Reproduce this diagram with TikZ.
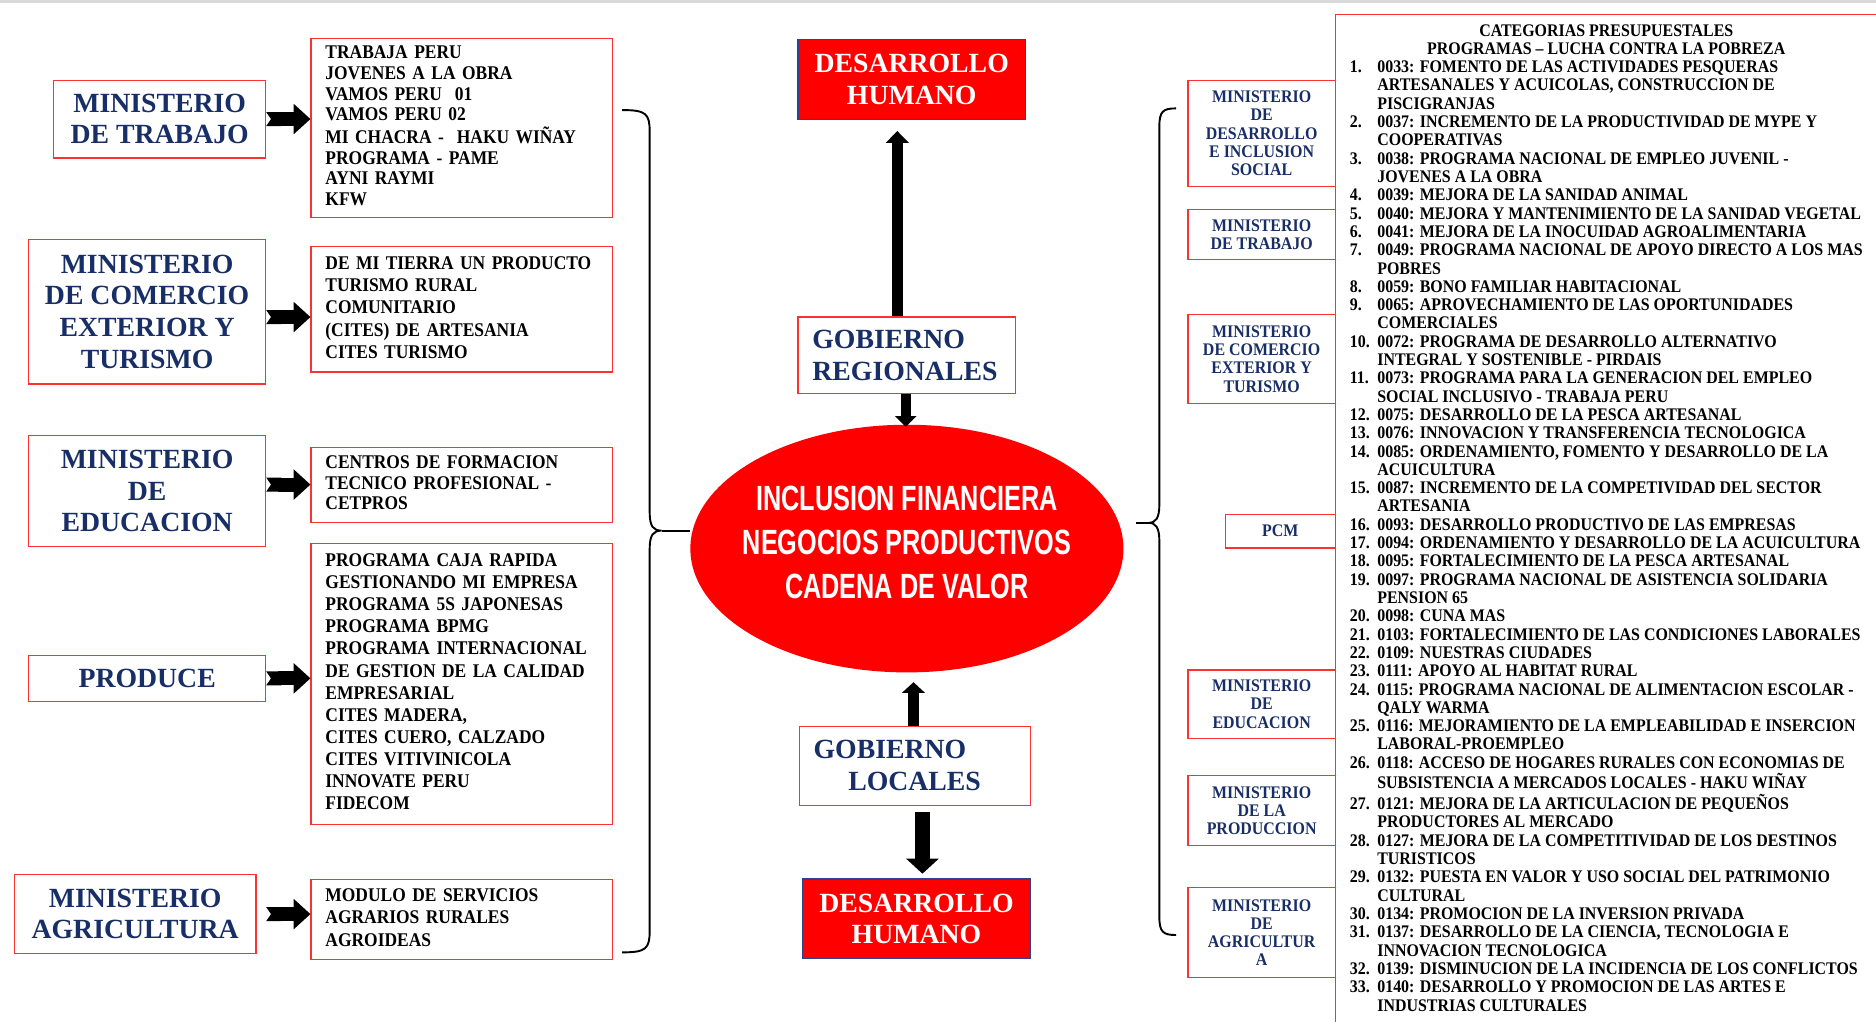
\documentclass[tikz,border=0pt]{standalone}
\usepackage{fontspec}
\setmainfont{Liberation Serif}
\newfontfamily\condserif[FakeStretch=0.9]{Liberation Serif}
\newfontfamily\condsans[FakeStretch=0.72]{Liberation Sans}
\usetikzlibrary{arrows.meta,shapes.geometric}

\definecolor{boxred}{RGB}{250,50,50}
\definecolor{navy}{RGB}{24,46,102}
\definecolor{dhborder}{RGB}{45,65,140}

\newcommand{\lines}[1]{\noindent\begin{tabular}{@{}l@{}}#1\end{tabular}}
\newcommand{\nr}[1]{\makebox[23pt][l]{#1.}}

\begin{document}
\begin{tikzpicture}[x=1pt, y=-1pt,
    minbox/.style={draw=boxred, line width=1pt, align=center, text=navy, inner sep=0pt,
        font=\fontsize{23.2}{26.5}\selectfont\bfseries},
    progbox/.style={draw=boxred, line width=1pt, text width=228pt, align=left,
        inner xsep=12pt, inner ysep=0pt,
        font=\condserif\fontsize{16.2}{#1}\selectfont\bfseries},
    progbox/.default=17.2,
    gobbox/.style={draw=boxred, line width=1pt, align=left, text=navy, inner xsep=12pt,
        inner ysep=0pt, font=\fontsize{23.2}{26.5}\selectfont\bfseries},
    dhbox/.style={draw=dhborder, line width=1pt, fill=red, text=white, align=center,
        inner sep=0pt, minimum width=190pt, font=\fontsize{23.2}{26.5}\selectfont\bfseries},
    rminbox/.style={draw=boxred, line width=1pt, align=center, text=navy, inner sep=0pt,
        font=\condserif\fontsize{14.8}{15.3}\selectfont\bfseries},
    notched/.style={line width=11.7pt,
        {Triangle Cap[reversed,length=4pt]}-{Triangle[width=24.5pt,length=14pt]}},
    curly/.style={line width=1.6pt}]

\useasboundingbox (0,0) rectangle (1568,854);
\clip (0,0) rectangle (1568,854);
\draw[gray!30, line width=2.5pt] (0,1) -- (1568,1);

% ministerios (izquierda)
\node[minbox, minimum width=177pt, minimum height=65pt] (mtra) at (133.5,99.5) {MINISTERIO\\DE TRABAJO};
\node[minbox, minimum width=198pt, minimum height=121pt] (mcom) at (123,260.5) {MINISTERIO\\DE COMERCIO\\EXTERIOR Y\\TURISMO};
\node[minbox, minimum width=198pt, minimum height=93pt] (medu) at (123,410.5) {MINISTERIO\\DE\\EDUCACION};
\node[minbox, minimum width=198pt, minimum height=38pt] (mpro) at (123,567) {PRODUCE};
\node[minbox, minimum width=202pt, minimum height=66pt] (magr) at (113,764) {MINISTERIO\\AGRICULTURA};

% programas
\node[progbox=17.3, minimum height=150pt] (ptra) at (386,107) {\lines{TRABAJA PERU\\ JOVENES A LA OBRA\\ VAMOS PERU \ 01\\ VAMOS PERU 02\\ MI CHACRA - \ HAKU WIÑAY\\ PROGRAMA - PAME\\ AYNI RAYMI\\ KFW}};
\node[progbox=18.7, minimum height=105pt] (pcom) at (386,258.5) {\lines{DE MI TIERRA UN PRODUCTO\\ TURISMO RURAL\\ COMUNITARIO\\ (CITES) DE ARTESANIA\\ CITES TURISMO}};
\node[progbox=17, minimum height=63pt] (pedu) at (386,405.5) {\lines{CENTROS DE FORMACION\\ TECNICO PROFESIONAL -\\ CETPROS}};
\node[progbox=18.5, minimum height=235pt] (ppro) at (386,571.5) {\lines{PROGRAMA CAJA RAPIDA\\ GESTIONANDO MI EMPRESA\\ PROGRAMA 5S JAPONESAS\\ PROGRAMA BPMG\\ PROGRAMA INTERNACIONAL\\ DE GESTION DE LA CALIDAD\\ EMPRESARIAL\\ CITES MADERA,\\ CITES CUERO, CALZADO\\ CITES VITIVINICOLA\\ INNOVATE PERU\\ FIDECOM}};
\node[progbox=18.5, minimum height=67pt] (pagr) at (386,768.5) {\lines{MODULO DE SERVICIOS\\ AGRARIOS RURALES\\ AGROIDEAS}};

\draw[notched] (mtra.east) -- (mtra.east -| ptra.west);
\draw[notched] ([yshift=-4.5pt]mcom.east) -- ([yshift=-4.5pt]mcom.east -| pcom.west);
\draw[notched] ([yshift=5.5pt]medu.east) -- ([yshift=5.5pt]medu.east -| pedu.west);
\draw[notched] (mpro.east) -- (mpro.east -| ppro.west);
\draw[notched, shorten <=8pt] (magr.east) -- (magr.east -| pagr.west);

% centro
\node[ellipse, fill=red, minimum width=362pt, minimum height=207pt, inner sep=0pt, text=white,
    font=\condsans\fontsize{29.3}{37}\selectfont\bfseries] (el) at (758,458.5)
    {\makebox[0pt]{\raisebox{-42pt}[0pt][0pt]{\begin{tabular}[b]{@{}c@{}}INCLUSION FINANCIERA\\NEGOCIOS PRODUCTIVOS\\CADENA DE VALOR\end{tabular}}}};
\node[dhbox, minimum height=67pt] (dhtop) at (762,66.5) {DESARROLLO\\HUMANO};
\node[gobbox, text width=158pt, minimum height=64pt] (greg) at (758,297) {GOBIERNO\\REGIONALES};
\node[gobbox, text width=169pt, minimum height=66pt] (gloc) at (764.5,640) {GOBIERNO\\\hspace*{29pt}LOCALES};
\node[dhbox, minimum height=66.5pt] (dhbot) at (766,768) {DESARROLLO\\HUMANO};

\draw[line width=9pt, shorten >=9pt, -{Triangle[width=19pt,length=10pt]}]
    ([xshift=-8pt]greg.north) -- ([xshift=-8pt]greg.north |- dhtop.south);
\draw[line width=8.4pt, shorten >=-2pt, -{Triangle[width=17.5pt,length=9pt]}]
    ([xshift=-1pt]greg.south) -- ([xshift=-1pt]greg.south |- el.north);
\draw[line width=9pt, shorten >=8pt, -{Triangle[width=19pt,length=9pt]}]
    ([xshift=-1pt]gloc.north) -- ([xshift=-1pt]gloc.north |- el.south);
\draw[line width=12.5pt, shorten <=5pt, shorten >=4pt, -{Triangle[width=26.5pt,length=12.5pt]}]
    ([xshift=6.5pt]gloc.south) -- ([xshift=6.5pt]gloc.south |- dhbot.north);

% llaves
\coordinate (lt) at (553,443.5);
\draw[curly] (520,92) .. controls (540,92) and (543,95) .. (543,110) -- (543,428)
    .. controls (543,440) and (546,443.5) .. (lt) .. controls (546,443.5) and (543,447) .. (543,459)
    -- (543,778) .. controls (543,793) and (540,796) .. (520,796);
\draw[curly] (lt) -- (lt -| el.west);

\coordinate (rt) at (960,437);
\draw[curly] (983,90.6) .. controls (972,90.6) and (969,93) .. (969,106) -- (969,422)
    .. controls (969,433) and (966,437) .. (rt) .. controls (966,437) and (969,441) .. (969,452)
    -- (969,766) .. controls (969,779) and (972,781.5) .. (983,781.5);
\draw[curly, shorten >=10pt] (rt) -- (rt -| el.east);

% ministerios (derecha)
\node[rminbox, minimum width=123pt, minimum height=89pt] (rmdis) at (1054.5,111.5) {MINISTERIO\\DE\\DESARROLLO\\E INCLUSION\\SOCIAL};
\node[rminbox, minimum width=123pt, minimum height=42pt] (rmtra) at (1054.5,196) {MINISTERIO\\DE TRABAJO};
\node[rminbox, minimum width=123pt, minimum height=74pt] (rmcom) at (1054.5,300) {MINISTERIO\\DE COMERCIO\\EXTERIOR Y\\TURISMO};
\node[rminbox, minimum width=92pt, minimum height=28pt] (rpcm) at (1070,444) {PCM};
\node[rminbox, minimum width=123pt, minimum height=57pt] (rmedu) at (1054.5,588.5) {MINISTERIO\\DE\\EDUCACION};
\node[rminbox, minimum width=123pt, minimum height=59pt] (rmpro) at (1054.5,677.5) {MINISTERIO\\DE LA\\PRODUCCION};
\node[rminbox, minimum width=123pt, minimum height=75pt] (rmagr) at (1054.5,779.5) {MINISTERIO\\DE\\AGRICULTUR\\A};

% categorias presupuestales
\draw[boxred, line width=1pt] (1116,900) -- (1116,12) -- (1650,12);
\node[anchor=north west, inner sep=0pt, font=\condserif\fontsize{14.8}{15.3}\selectfont\bfseries] (cats) at (1128,19.2) {%
\begin{tabular}{@{}l@{}l@{}}
\multicolumn{2}{@{}c@{}}{CATEGORIAS PRESUPUESTALES}\\
\multicolumn{2}{@{}c@{}}{PROGRAMAS – LUCHA CONTRA LA POBREZA}\\
\nr{1} & 0033: FOMENTO DE LAS ACTIVIDADES PESQUERAS\\
 & ARTESANALES Y ACUICOLAS, CONSTRUCCION DE\\
 & PISCIGRANJAS\\
\nr{2} & 0037: INCREMENTO DE LA PRODUCTIVIDAD DE MYPE Y\\
 & COOPERATIVAS\\
\nr{3} & 0038: PROGRAMA NACIONAL DE EMPLEO JUVENIL -\\
 & JOVENES A LA OBRA\\
\nr{4} & 0039: MEJORA DE LA SANIDAD ANIMAL\\
\nr{5} & 0040: MEJORA Y MANTENIMIENTO DE LA SANIDAD VEGETAL\\
\nr{6} & 0041: MEJORA DE LA INOCUIDAD AGROALIMENTARIA\\
\nr{7} & 0049: PROGRAMA NACIONAL DE APOYO DIRECTO A LOS MAS\\
 & POBRES\\
\nr{8} & 0059: BONO FAMILIAR HABITACIONAL\\
\nr{9} & 0065: APROVECHAMIENTO DE LAS OPORTUNIDADES\\
 & COMERCIALES\\
\nr{10} & 0072: PROGRAMA DE DESARROLLO ALTERNATIVO\\
 & INTEGRAL Y SOSTENIBLE - PIRDAIS\\
\nr{11} & 0073: PROGRAMA PARA LA GENERACION DEL EMPLEO\\
 & SOCIAL INCLUSIVO - TRABAJA PERU\\
\nr{12} & 0075: DESARROLLO DE LA PESCA ARTESANAL\\
\nr{13} & 0076: INNOVACION Y TRANSFERENCIA TECNOLOGICA\\
\nr{14} & 0085: ORDENAMIENTO, FOMENTO Y DESARROLLO DE LA\\
 & ACUICULTURA\\
\nr{15} & 0087: INCREMENTO DE LA COMPETIVIDAD DEL SECTOR\\
 & ARTESANIA\\
\nr{16} & 0093: DESARROLLO PRODUCTIVO DE LAS EMPRESAS\\
\nr{17} & 0094: ORDENAMIENTO Y DESARROLLO DE LA ACUICULTURA\\
\nr{18} & 0095: FORTALECIMIENTO DE LA PESCA ARTESANAL\\
\nr{19} & 0097: PROGRAMA NACIONAL DE ASISTENCIA SOLIDARIA\\
 & PENSION 65\\
\nr{20} & 0098: CUNA MAS\\
\nr{21} & 0103: FORTALECIMIENTO DE LAS CONDICIONES LABORALES\\
\nr{22} & 0109: NUESTRAS CIUDADES\\
\nr{23} & 0111: APOYO AL HABITAT RURAL\\
\nr{24} & 0115: PROGRAMA NACIONAL DE ALIMENTACION ESCOLAR -\\
 & QALY WARMA\\
\nr{25} & 0116: MEJORAMIENTO DE LA EMPLEABILIDAD E INSERCION\\
 & LABORAL-PROEMPLEO\\
\nr{26} & 0118: ACCESO DE HOGARES RURALES CON ECONOMIAS DE\\
 & SUBSISTENCIA A MERCADOS LOCALES - HAKU WIÑAY\\
\nr{27} & 0121: MEJORA DE LA ARTICULACION DE PEQUEÑOS\\
 & PRODUCTORES AL MERCADO\\
\nr{28} & 0127: MEJORA DE LA COMPETITIVIDAD DE LOS DESTINOS\\
 & TURISTICOS\\
\nr{29} & 0132: PUESTA EN VALOR Y USO SOCIAL DEL PATRIMONIO\\
 & CULTURAL\\
\nr{30} & 0134: PROMOCION DE LA INVERSION PRIVADA\\
\nr{31} & 0137: DESARROLLO DE LA CIENCIA, TECNOLOGIA E\\
 & INNOVACION TECNOLOGICA\\
\nr{32} & 0139: DISMINUCION DE LA INCIDENCIA DE LOS CONFLICTOS\\
\nr{33} & 0140: DESARROLLO Y PROMOCION DE LAS ARTES E\\
 & INDUSTRIAS CULTURALES
\end{tabular}};
\end{tikzpicture}
\end{document}
